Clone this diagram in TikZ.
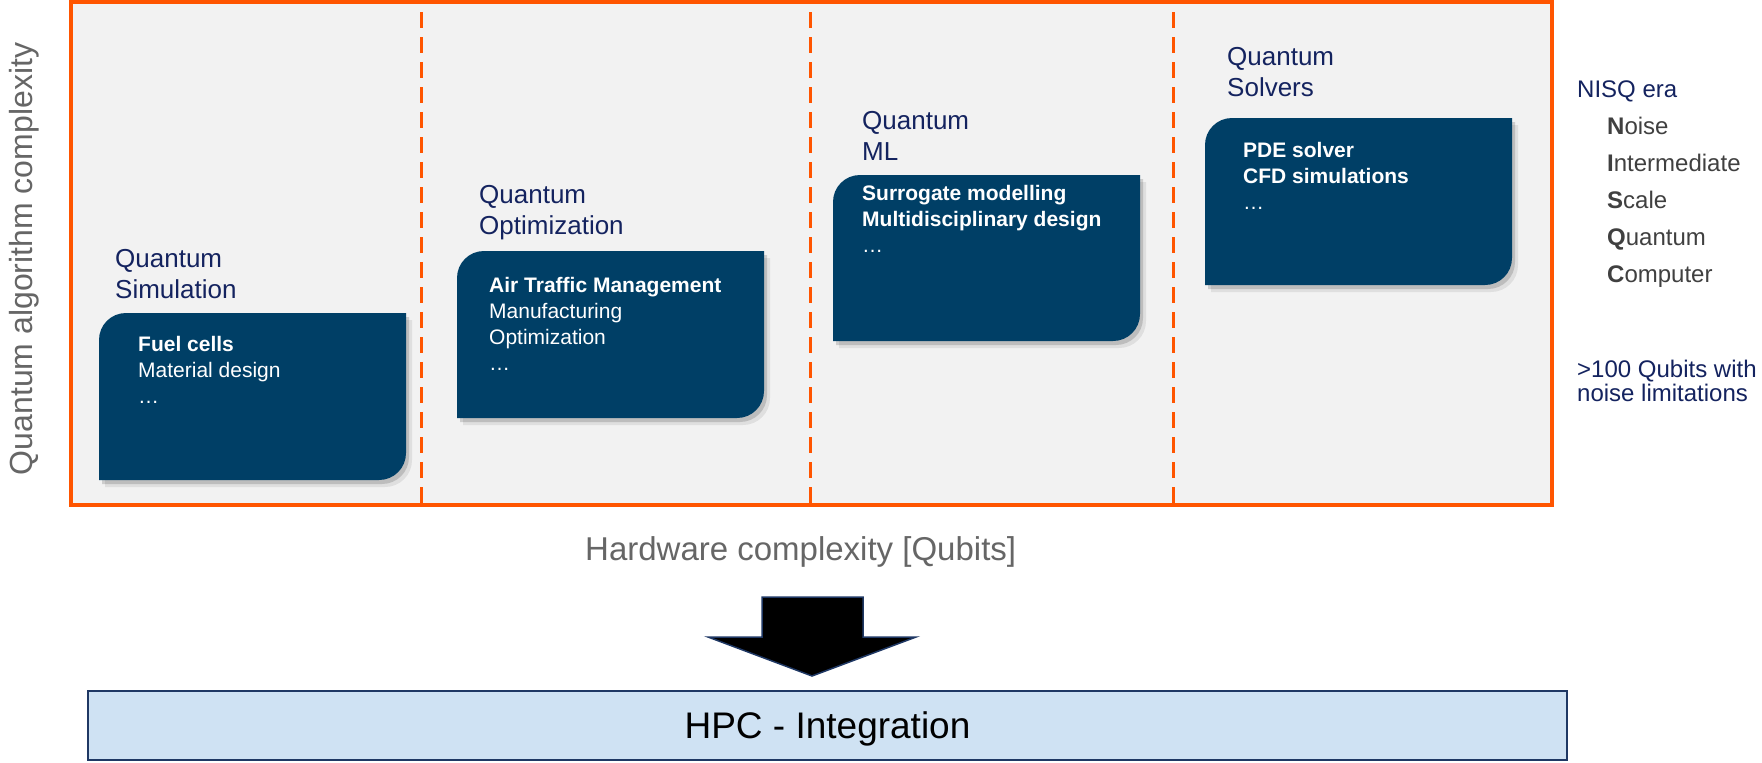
\documentclass[tikz,border=0pt]{standalone}
\usepackage{fontspec}
\setmainfont{Liberation Sans}
\definecolor{qorange}{RGB}{255,85,0}
\definecolor{qbg}{RGB}{242,242,242}
\definecolor{qbox}{RGB}{0,63,102}
\definecolor{qnavy}{RGB}{20,35,95}
\definecolor{qgray}{RGB}{102,102,102}
\definecolor{qdark}{RGB}{64,64,64}
\definecolor{hpcfill}{RGB}{207,226,243}
\definecolor{hpcline}{RGB}{31,56,100}
\newcommand\qcard[4]{%
  \fill[black,opacity=0.08,shift={(6,7)}] (#1,#4) -- (#1,#2+27) .. controls +(0,-15) and +(-15,0) .. (#1+27,#2) -- (#3,#2) -- (#3,#4-27) .. controls +(0,15) and +(15,0) .. (#3-27,#4) -- cycle;
  \fill[black,opacity=0.15,shift={(3,4)}] (#1,#4) -- (#1,#2+27) .. controls +(0,-15) and +(-15,0) .. (#1+27,#2) -- (#3,#2) -- (#3,#4-27) .. controls +(0,15) and +(15,0) .. (#3-27,#4) -- cycle;
  \fill[qbox] (#1,#4) -- (#1,#2+27) .. controls +(0,-15) and +(-15,0) .. (#1+27,#2) -- (#3,#2) -- (#3,#4-27) .. controls +(0,15) and +(15,0) .. (#3-27,#4) -- cycle;
}
\begin{document}
\begin{tikzpicture}[x=1pt,y=-1pt,
  mainframe/.style={draw=qorange, line width=3.5pt, fill=qbg},
  sepline/.style={draw=qorange, line width=3pt, dash pattern=on 16pt off 9pt},
  qtitle/.style={anchor=base west, inner sep=0pt, text=qnavy, font=\fontsize{26}{31}\selectfont},
  cardtext/.style={anchor=base west, inner sep=0pt, text=white, font=\fontsize{21}{26}\selectfont},
  nisq/.style={anchor=base west, inner sep=0pt, text=qnavy, font=\fontsize{24}{23}\selectfont},
  nisqitem/.style={anchor=base west, inner sep=0pt, text=qdark, font=\fontsize{24}{37}\selectfont},
  axislabel/.style={text=qgray, inner sep=0pt},
  hpc/.style={draw=hpcline, line width=2pt, fill=hpcfill, minimum width=1479pt, minimum height=69pt, inner sep=0pt, text height=26pt, text depth=0pt, font=\fontsize{37}{44}\selectfont},
  bigarrow/.style={fill=black, draw=hpcline, line width=1.5pt, line join=miter}]
\useasboundingbox (0,0) rectangle (1762,763);
\fill[white] (0,0) rectangle (1762,763);
% main frame
\path[mainframe] (71,2) rectangle (1552,505);
% separators
\draw[sepline] (421,12) -- (421,508);
\draw[sepline] (810,12) -- (810,503);
\draw[sepline] (1173,12) -- (1173,503);
% cards
\qcard{99}{313}{406}{480}
\qcard{457}{251}{764}{418}
\qcard{833}{175}{1140}{341}
\qcard{1205}{118}{1512}{285}
% titles
\node[qtitle] (t1) at (115,267) {\begin{tabular}[t]{@{}l@{}}Quantum\\Simulation\end{tabular}};
\node[qtitle] (t2) at (479,203) {\begin{tabular}[t]{@{}l@{}}Quantum\\Optimization\end{tabular}};
\node[qtitle] (t3) at (862,129) {\begin{tabular}[t]{@{}l@{}}Quantum\\ML\end{tabular}};
\node[qtitle] (t4) at (1227,65) {\begin{tabular}[t]{@{}l@{}}Quantum\\Solvers\end{tabular}};
% card texts
\node[cardtext] (c1) at (138,351) {\begin{tabular}[t]{@{}l@{}}\textbf{Fuel cells}\\Material design\\…\end{tabular}};
\node[cardtext] (c2) at (489,292) {\begin{tabular}[t]{@{}l@{}}\textbf{Air Traffic Management}\\Manufacturing\\Optimization\\…\end{tabular}};
\node[cardtext] (c3) at (862,200) {\begin{tabular}[t]{@{}l@{}}\textbf{Surrogate modelling}\\\textbf{Multidisciplinary design}\\…\end{tabular}};
\node[cardtext] (c4) at (1243,157) {\begin{tabular}[t]{@{}l@{}}\textbf{PDE solver}\\\textbf{CFD simulations}\\…\end{tabular}};
% NISQ legend
\node[nisq] (n0) at (1577,97) {NISQ era};
\node[nisqitem] (n1) at (1607,134) {\begin{tabular}[t]{@{}l@{}}\textbf{N}oise\\\textbf{I}ntermediate\\\textbf{S}cale\\\textbf{Q}uantum\\\textbf{C}omputer\end{tabular}};
\node[nisq] (n2) at (1577,377) {\begin{tabular}[t]{@{}l@{}}>100 Qubits with\\noise limitations\end{tabular}};
% axis labels
\node[axislabel, anchor=base west, font=\fontsize{33}{40}\selectfont] (xl) at (585,560) {Hardware complexity [Qubits]};
\node[axislabel, anchor=base, rotate=90, font=\fontsize{32}{38}\selectfont] (yl) at (32,259) {Quantum algorithm complexity};
% arrow and HPC
\path[bigarrow] (762,597) -- (863,597) -- (863,637) -- (916,637) -- (812,676) -- (708,637) -- (762,637) -- cycle;
\node[hpc] (hpcbox) at (827.5,725.5) {HPC - Integration};
\end{tikzpicture}
\end{document}
